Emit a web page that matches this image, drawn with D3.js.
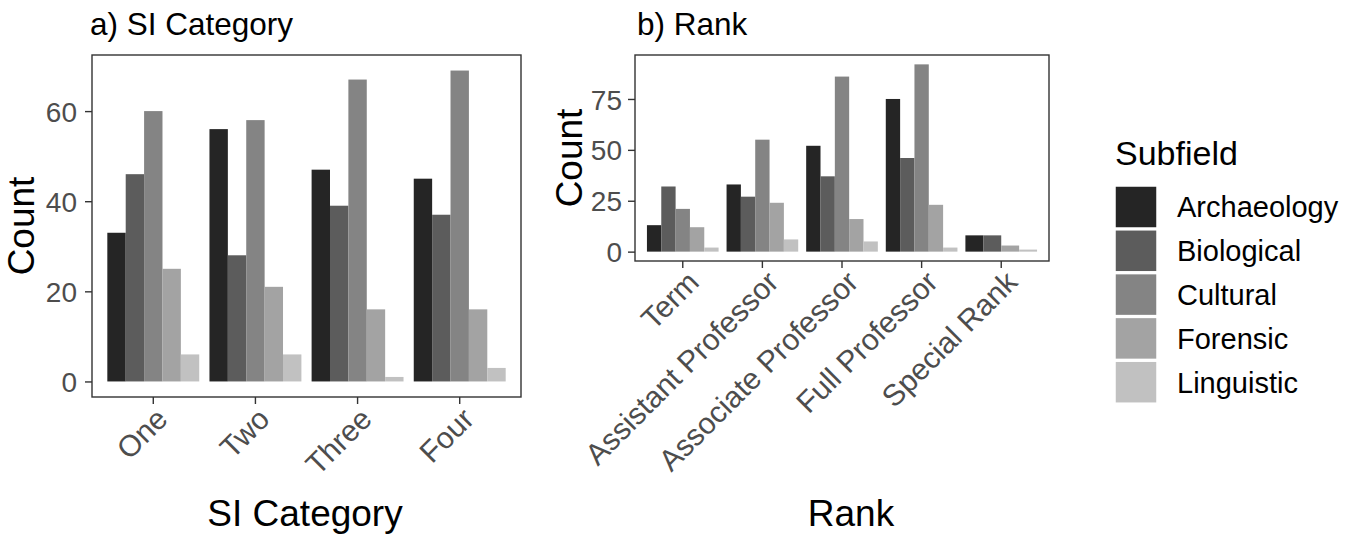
<!DOCTYPE html>
<html lang="en">
    <head>
        <meta charset="utf-8">
        <title>Subfield counts</title>
        <style type="text/css">
            body { margin: 0; background: #fff; }
            svg text { font-family: "Liberation Sans", Arial, sans-serif; }
        </style>
    </head>
    <body>

<script src="https://d3js.org/d3.v7.min.js"></script>
<script>

    var w = 1357;
    var h = 535;

    // legend / fill order
    var subfields = ["Archaeology", "Biological", "Cultural", "Forensic", "Linguistic"];
    var greys = ["#252525", "#5c5c5c", "#848484", "#a3a3a3", "#c1c1c1"];

    // panel a
    var siCats = ["One", "Two", "Three", "Four"];
    var siArch = [33, 56, 47, 45];
    var siBio  = [46, 28, 39, 37];
    var siCult = [60, 58, 67, 69];
    var siFor  = [25, 21, 16, 16];
    var siLing = [6, 6, 1, 3];
    var siTicks = [0, 20, 40, 60];

    // panel b  (no Cultural in Special Rank)
    var ranks = ["Term", "Assistant Professor", "Associate Professor", "Full Professor", "Special Rank"];
    var rankArch = [13, 33, 52, 75, 8];
    var rankBio  = [32, 27, 37, 46, 8];
    var rankCult = [21, 55, 86, 92, null];
    var rankFor  = [12, 24, 16, 23, 3];
    var rankLing = [2, 6, 5, 2, 1];
    var rankTicks = [0, 25, 50, 75];

    var svg = d3.select("body")
            .append("svg")
            .attr("width", w)
            .attr("height", h);

    var color = d3.scaleOrdinal().domain(subfields).range(greys);

    function drawPanel(opt) {
        var box = opt.box;
        var series = [opt.arch, opt.bio, opt.cult, opt.forn, opt.ling];

        // rows: one per category, only subfields that have a value
        var rows = opt.cats.map(function(c, i) {
            var vals = [];
            subfields.forEach(function(s, j) {
                if (series[j][i] != null) vals.push({sub: s, value: series[j][i]});
            });
            return {cat: c, vals: vals};
        });

        var maxV = d3.max(series, function(s) { return d3.max(s); });

        var x = d3.scaleBand()
            .domain(opt.cats)
            .range([box.left, box.right])
            .paddingInner(0.1)
            .paddingOuter(0.15);

        var y = d3.scaleLinear()
            .domain([-0.05 * maxV, 1.05 * maxV])
            .range([box.bottom, box.top]);

        var g = svg.append("g");

        var groups = g.selectAll("g.grp")
            .data(rows)
            .enter()
            .append("g")
            .attr("class", "grp");

        groups.each(function(row) {
            var inner = d3.scaleBand()
                .domain(row.vals.map(function(d) { return d.sub; }))
                .range([x(row.cat), x(row.cat) + x.bandwidth()]);

            d3.select(this).selectAll("rect")
                .data(row.vals)
                .enter()
                .append("rect")
                .attr("x", function(d) { return inner(d.sub); })
                .attr("width", inner.bandwidth())
                .attr("y", function(d) { return y(d.value); })
                .attr("height", function(d) { return y(0) - y(d.value); })
                .attr("fill", function(d) { return color(d.sub); });
        });

        // border
        g.append("rect")
            .attr("x", box.left)
            .attr("y", box.top)
            .attr("width", box.right - box.left)
            .attr("height", box.bottom - box.top)
            .attr("fill", "none")
            .attr("stroke", "#333333")
            .attr("stroke-width", 1.4);

        // y axis
        var yAxis = g.append("g")
            .attr("transform", "translate(" + box.left + ",0)")
            .call(d3.axisLeft(y).tickValues(opt.ticks).tickSize(7).tickPadding(opt.tickPad));
        yAxis.select(".domain").remove();
        yAxis.selectAll("line").attr("stroke", "#333333").attr("stroke-width", 1.4);
        yAxis.selectAll("text")
            .attr("fill", "#4d4d4d")
            .style("font-size", "28px")
            .attr("dy", "0.36em");

        // x axis
        var xAxis = g.append("g")
            .attr("transform", "translate(0," + box.bottom + ")")
            .call(d3.axisBottom(x).tickSize(7).tickFormat(""));
        xAxis.select(".domain").remove();
        xAxis.selectAll("line").attr("stroke", "#333333").attr("stroke-width", 1.4);

        g.selectAll("text.xlab")
            .data(opt.cats)
            .enter()
            .append("text")
            .attr("class", "xlab")
            .attr("transform", function(d) {
                var cx = x(d) + x.bandwidth() / 2 + opt.labDx;
                return "translate(" + cx + "," + (box.bottom + opt.labDy) + ") rotate(-45)";
            })
            .attr("text-anchor", "end")
            .attr("fill", "#4d4d4d")
            .style("font-size", "30px")
            .text(function(d) { return d; });

        // titles
        g.append("text")
            .attr("x", opt.titleX)
            .attr("y", 35)
            .style("font-size", "31.5px")
            .attr("fill", "#000")
            .text(opt.title);

        g.append("text")
            .attr("x", opt.xTitleX)
            .attr("y", 526)
            .attr("text-anchor", "middle")
            .style("font-size", "37px")
            .attr("fill", "#000")
            .text(opt.xTitle);

        g.append("text")
            .attr("transform", "translate(" + opt.yTitleX + "," + ((box.top + box.bottom) / 2) + ") rotate(-90)")
            .attr("text-anchor", "middle")
            .style("font-size", "37px")
            .attr("fill", "#000")
            .text("Count");
    }

    drawPanel({
        box: {left: 92, right: 521, top: 55, bottom: 397},
        cats: siCats,
        arch: siArch, bio: siBio, cult: siCult, forn: siFor, ling: siLing,
        ticks: siTicks,
        tickPad: 8,
        title: "a) SI Category",
        titleX: 90,
        xTitle: "SI Category",
        xTitleX: 305,
        yTitleX: 34,
        labDx: 16,
        labDy: 24
    });

    drawPanel({
        box: {left: 635, right: 1049, top: 55, bottom: 261},
        cats: ranks,
        arch: rankArch, bio: rankBio, cult: rankCult, forn: rankFor, ling: rankLing,
        ticks: rankTicks,
        tickPad: 6,
        title: "b) Rank",
        titleX: 637,
        xTitle: "Rank",
        xTitleX: 851,
        yTitleX: 582,
        labDx: 18,
        labDy: 23
    });

    // legend
    var leg = svg.append("g");

    leg.append("text")
        .attr("x", 1115)
        .attr("y", 165)
        .style("font-size", "34px")
        .attr("fill", "#000")
        .text("Subfield");

    var items = leg.selectAll("g.item")
        .data(subfields)
        .enter()
        .append("g")
        .attr("class", "item")
        .attr("transform", function(d, i) {
            return "translate(1115," + (186 + i * 43.8) + ")";
        });

    items.append("rect")
        .attr("width", 42)
        .attr("height", 42)
        .attr("fill", function(d) { return color(d); })
        .attr("stroke", "#fff")
        .attr("stroke-width", 1.5);

    items.append("text")
        .attr("x", 62)
        .attr("y", 21)
        .attr("dy", "0.36em")
        .style("font-size", "29px")
        .attr("fill", "#000")
        .text(function(d) { return d; });

</script>

    </body>
</html>
